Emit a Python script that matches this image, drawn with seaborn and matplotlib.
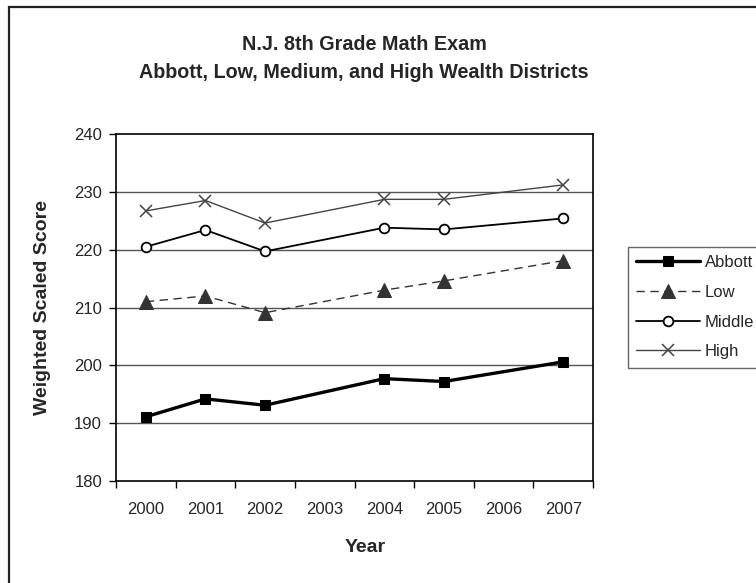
import matplotlib
matplotlib.use("Agg")
import matplotlib.pyplot as plt
from matplotlib.patches import Rectangle
from matplotlib.ticker import FixedLocator, NullFormatter, FixedFormatter
import seaborn as sns
import pandas as pd

# Category axis (every school year) and the years with reported scores
years = [2000, 2001, 2002, 2003, 2004, 2005, 2006, 2007]
score_years = [2000, 2001, 2002, 2004, 2005, 2007]

abbott = [191.1, 194.2, 193.1, 197.7, 197.2, 200.6]
low = [211.0, 212.0, 209.1, 213.0, 214.6, 218.1]
middle = [220.5, 223.4, 219.7, 223.8, 223.5, 225.4]
high = [226.7, 228.5, 224.6, 228.7, 228.7, 231.2]

y_ticks = [180, 190, 200, 210, 220, 230, 240]

sns.set_style("white")
plt.rcParams["font.family"] = ["Liberation Sans", "DejaVu Sans"]

W, H = 756, 583
fig = plt.figure(figsize=(W / 100, H / 100), dpi=100)
ax = fig.add_axes([116 / W, 1 - 481 / H, 477 / W, 347 / H])

pos = [years.index(y) for y in score_years]
df = pd.DataFrame({"pos": pos, "Abbott": abbott, "Low": low,
                   "Middle": middle, "High": high})

# horizontal gridlines behind the series
for v in y_ticks[1:-1]:
    ax.axhline(v, color="#555555", lw=1.0, zorder=0)

sns.lineplot(data=df, x="pos", y="Abbott", ax=ax, color="black", lw=2.4,
             marker="s", markersize=7.5, markeredgecolor="black",
             label="Abbott", zorder=4)
sns.lineplot(data=df, x="pos", y="Low", ax=ax, color="#333333", lw=1.0,
             linestyle=(0, (6, 4)), marker="^", markersize=9.5,
             markeredgecolor="#333333", label="Low", zorder=3)
sns.lineplot(data=df, x="pos", y="Middle", ax=ax, color="black", lw=1.3,
             marker="o", markersize=7, markerfacecolor="white",
             markeredgecolor="black", markeredgewidth=1.3,
             label="Middle", zorder=3)
sns.lineplot(data=df, x="pos", y="High", ax=ax, color="#444444", lw=1.0,
             marker="x", markersize=8, markeredgecolor="#444444",
             markeredgewidth=1.1, label="High", zorder=3)

handles, labels = ax.get_legend_handles_labels()
if ax.get_legend() is not None:
    ax.get_legend().remove()

# axes ranges and ticks
ax.set_xlim(-0.5, len(years) - 0.5)
ax.set_ylim(180, 240)
ax.set_yticks(y_ticks)
ax.xaxis.set_major_locator(FixedLocator([i - 0.5 for i in range(len(years) + 1)]))
ax.xaxis.set_major_formatter(NullFormatter())
ax.xaxis.set_minor_locator(FixedLocator(list(range(len(years)))))
ax.xaxis.set_minor_formatter(FixedFormatter([str(y) for y in years]))
ax.tick_params(axis="x", which="major", direction="out", length=5,
               width=1, color="black", bottom=True)
ax.tick_params(axis="x", which="minor", length=0, pad=15, labelsize=12)
ax.tick_params(axis="y", direction="out", length=5, width=1, color="black",
               left=True, pad=5, labelsize=12)

for s in ax.spines.values():
    s.set_color("black")
    s.set_linewidth(1.2)

ax.set_xlabel("Year", fontsize=14, fontweight="bold")
ax.xaxis.set_label_coords((365 - 116) / 477, -(548 - 481) / 347)
ax.xaxis.label.set_va("center")
ax.set_ylabel("Weighted Scaled Score", fontsize=14, fontweight="bold")
ax.yaxis.set_label_coords((43 - 116) / 477, 0.5)
ax.yaxis.label.set_va("center")

fig.text(364 / W, 1 - 45 / H, "N.J. 8th Grade Math Exam", ha="center",
         va="center", fontsize=14.2, fontweight="bold")
fig.text(364 / W, 1 - 73 / H, "Abbott, Low, Medium, and High Wealth Districts",
         ha="center", va="center", fontsize=14.2, fontweight="bold")

leg = fig.legend(handles, labels, loc="upper left",
                 bbox_to_anchor=(628 / W, 1 - 247 / H), borderaxespad=0,
                 frameon=True, fancybox=False, edgecolor="#666666",
                 framealpha=1, fontsize=12, handlelength=3.8,
                 handletextpad=0.3, borderpad=0.5, labelspacing=0.88)
leg.get_frame().set_linewidth(1.0)

# chart-area border
fig.add_artist(Rectangle((8.5 / W, -0.05), 1.1, 1.05 - 7.5 / H,
                         transform=fig.transFigure, fill=False,
                         edgecolor="#222222", lw=1.6, clip_on=False))

fig.savefig("out.png", dpi=100)
